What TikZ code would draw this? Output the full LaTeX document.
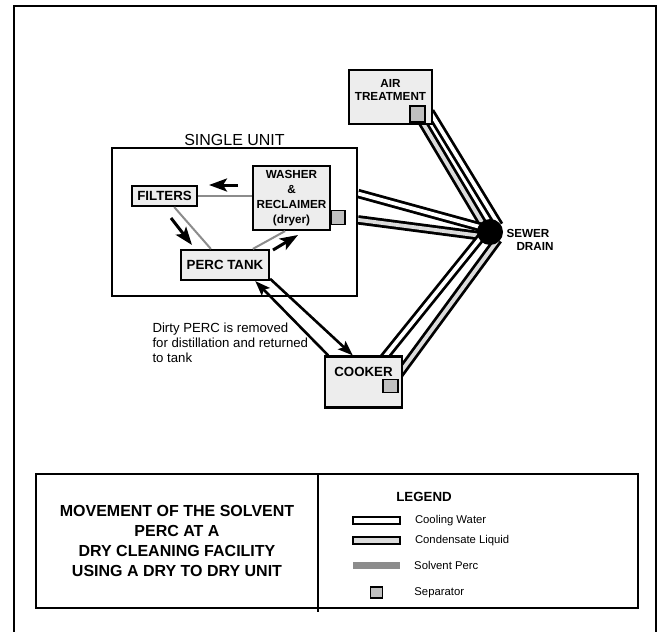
\documentclass[tikz,border=0pt]{standalone}
\usepackage{fontspec}
\setmainfont{Liberation Sans}
\usetikzlibrary{positioning,arrows.meta}
\pgfdeclarelayer{back}
\pgfsetlayers{back,main}
\definecolor{boxgray}{gray}{0.93}
\definecolor{sepgray}{gray}{0.75}
\definecolor{percgray}{gray}{0.55}
\definecolor{condgray}{gray}{0.86}

\begin{document}
\begin{tikzpicture}[
  x=1pt, y=-1pt,
  plant/.style={draw, line width=2.2pt, fill=boxgray, align=center, font=\bfseries\fontsize{13.3}{15}\selectfont, inner sep=0pt},
  boxtag/.style={align=center, font=\bfseries\fontsize{11.7}{13}\selectfont},
  separator/.style={draw, line width=1.8pt, fill=sepgray, minimum width=14pt, minimum height=14pt, inner sep=0pt},
  perc/.style={draw=percgray, line width=2pt},
  flow/.style={line width=3pt, -{Stealth[length=18pt, width=13pt, inset=4pt]}},
  feed/.style={line width=2.6pt, -{Stealth[length=15pt, width=11pt, inset=3pt]}},
  pipe/.style={line width=2.8pt, double distance=3.8pt, shorten >=-6pt, shorten <=-6pt},
  coolpipe/.style={pipe, double=white},
  condpipe/.style={pipe, double=condgray},
  legendkey/.style={minimum width=47pt, minimum height=7pt, inner sep=0pt},
  keytext/.style={font=\fontsize{11.3}{13}\selectfont}
]
\begin{pgfonlayer}{back}
\fill[white] (0,0) rectangle (659,632);
\end{pgfonlayer}
\useasboundingbox (0,0) rectangle (659,632);
\draw[line width=2pt] (14,640) -- (14,6) -- (656,6) -- (656,640);

\node[draw, line width=2pt, minimum width=245pt, minimum height=148pt, inner sep=0pt,
  label={[font=\fontsize{16}{18}\selectfont, label distance=-2pt]above:SINGLE UNIT}] (single) at (234.5,222) {};
\node[plant, minimum width=65pt, minimum height=20pt] (filters) at (164.5,196) {FILTERS};
\node[plant, minimum width=77pt, minimum height=64pt, font=\bfseries\fontsize{11.7}{15}\selectfont] (washer) at (291.5,198) {WASHER\\\&\\RECLAIMER\\(dryer)};
\node[separator] (wsep) at (338,217.5) {};
\node[plant, minimum width=88pt, minimum height=30pt] (tank) at (225,265) {PERC TANK};

\node[plant, minimum width=83pt, minimum height=54pt] (air) at (390.5,97) {};
\node[boxtag] (airtag) [below=7pt of air.north] {AIR\\TREATMENT};
\node[separator, minimum width=15pt, minimum height=16pt] (asep) at (417.5,114) {};

\node[plant, minimum width=77pt, minimum height=51pt] (cooker) at (363.5,382) {};
\node[boxtag, font=\bfseries\fontsize{13.3}{15}\selectfont] (cookertag) [below=8pt of cooker.north] {COOKER};
\node[separator, minimum width=15pt, minimum height=13pt] (csep) at (390.5,386) {};

\node[circle, fill, minimum size=26pt, inner sep=0pt] (drain) at (490,232) {};
\node[boxtag, align=left, anchor=west] (draintag) at (503,240) {SEWER\\\hspace*{10pt}DRAIN};

\draw[perc] (filters.east) -- (filters.east -| washer.west);
\draw[perc] (filters) -- (tank);
\draw[perc] (tank.30) -- (washer.259);
\draw[flow] (238,185) -- (209,185);
\draw[flow] (171,218) -- (192,245);
\draw[flow] (273,250) -- (298,235);

\draw[feed] (tank.-17) -- (cooker.112);
\draw[feed] (cooker.143) -- (tank.-28);
\node[font=\fontsize{13.2}{15}\selectfont, align=left, anchor=north west] (note) at (149,319) {Dirty PERC is removed\\for distillation and returned\\to tank};

\begin{pgfonlayer}{back}
\draw[coolpipe] (air.-25) -- (drain.63);
\draw[condpipe] (asep.center) -- (drain.129);
\draw[coolpipe, shorten <=0pt] (single.13) -- (drain.155);
\draw[condpipe, shorten <=0pt] (single.1) -- (drain.195);
\draw[coolpipe] (cooker.50) -- (drain.215);
\draw[condpipe] (csep.center) -- (drain.290);
\end{pgfonlayer}

\draw[line width=2pt] (36,474) rectangle (638,608);
\draw[line width=1.5pt] (318,474) -- (318,612);
\node[font=\bfseries\fontsize{16}{20}\selectfont, align=center] (title) at (177,541) {MOVEMENT OF THE SOLVENT\\PERC AT A\\DRY CLEANING FACILITY\\USING A DRY TO DRY UNIT};
\node[font=\bfseries\fontsize{13.3}{15}\selectfont] (legend) at (424,497) {LEGEND};
\node[legendkey, draw, line width=2pt, fill=white] (keycool) at (376.5,520.5) {};
\node[legendkey, draw, line width=2pt, fill=condgray] (keycond) at (376.5,540.5) {};
\node[legendkey, fill=percgray] (keyperc) at (376.5,565.5) {};
\node[separator, minimum width=12pt, minimum height=11pt] (keysep) at (376.5,592.5) {};
\node[keytext, right=10.5pt of keycool] (txtcool) {Cooling Water};
\node[keytext, right=10.5pt of keycond] (txtcond) {Condensate Liquid};
\node[keytext, right=10.5pt of keyperc] (txtperc) {Solvent Perc};
\node[keytext, right=27.5pt of keysep] (txtsep) {Separator};
\end{tikzpicture}
\end{document}
